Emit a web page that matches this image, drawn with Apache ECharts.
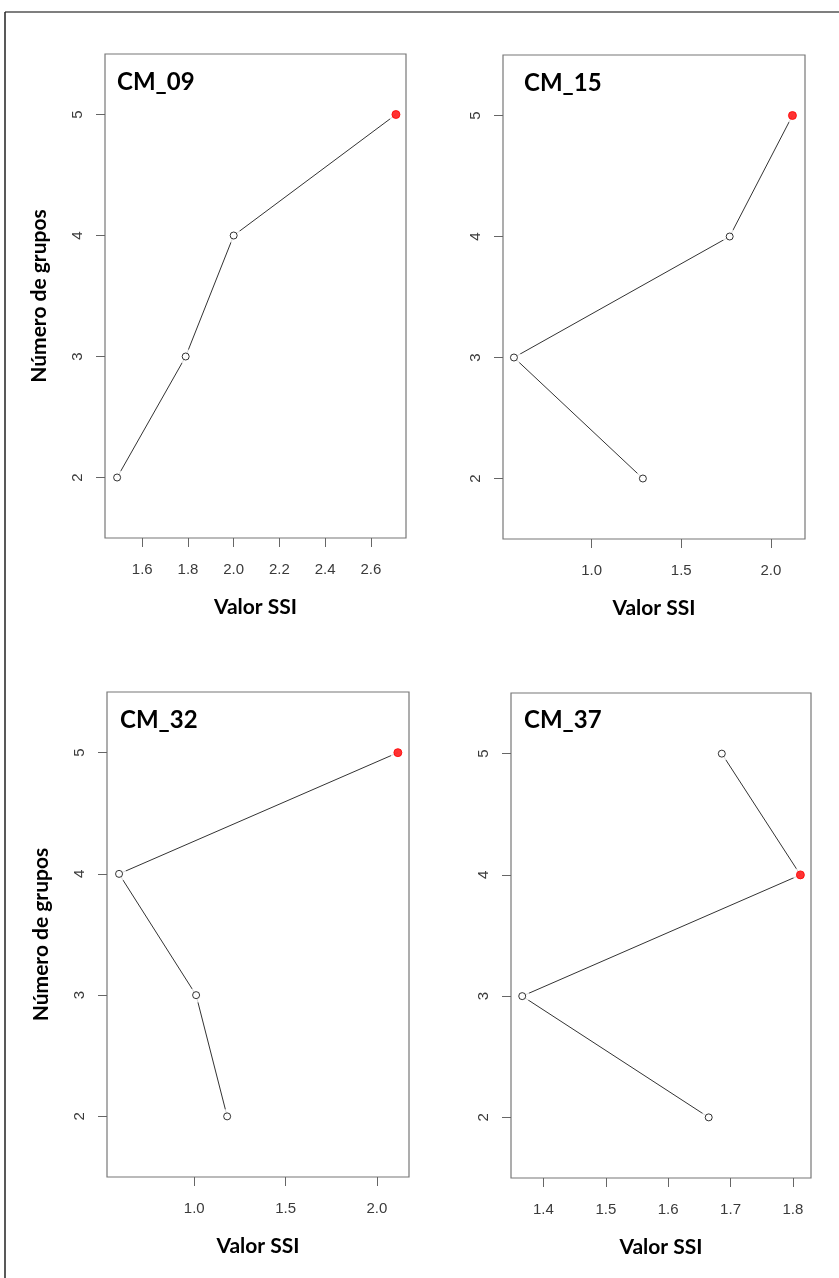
<!DOCTYPE html>
<html><head><meta charset="utf-8">
<script src="https://cdn.jsdelivr.net/npm/echarts@6/dist/echarts.min.js"></script>
<style>html,body{margin:0;padding:0;background:#fff}#c{width:839px;height:1278px}</style>
</head><body><div id="c"></div>
<script>
const groups = [2, 3, 4, 5];
const panelNames = ['CM_09', 'CM_15', 'CM_32', 'CM_37'];
const cm09 = [1.49, 1.79, 2.00, 2.71];
const cm15 = [1.286, 0.567, 1.77, 2.12];
const cm32 = [1.18, 1.01, 0.588, 2.115];
const cm37 = [1.665, 1.366, 1.812, 1.686];
const bestGroup = [5, 5, 5, 4];
const xTicks09 = [1.6, 1.8, 2.0, 2.2, 2.4, 2.6];
const xTicks15 = [1.0, 1.5, 2.0];
const xTicks32 = [1.0, 1.5, 2.0];
const xTicks37 = [1.4, 1.5, 1.6, 1.7, 1.8];
const yTicks = [2, 3, 4, 5];

const values = [cm09, cm15, cm32, cm37];
const xTicks = [xTicks09, xTicks15, xTicks32, xTicks37];
const xRanges = [[1.437, 2.754], [0.506, 2.19], [0.522, 2.176], [1.348, 1.829]];
const grids = [
  {left: 105, top: 54, width: 301, height: 484},
  {left: 503, top: 55, width: 302, height: 484},
  {left: 107, top: 692, width: 302, height: 485},
  {left: 511, top: 693, width: 300, height: 485}
];
const titlePos = [[112, 65], [519, 66], [115, 703], [519, 703]];

const chart = echarts.init(document.getElementById('c'), null, {renderer: 'canvas'});
const lab = {fontFamily: 'Liberation Sans, Arial, sans-serif', fontSize: 15, color: '#3a3a3a'};
const boldFont = 'Lato, "Open Sans", sans-serif';

const series = [];
values.forEach((vals, i) => {
  const pts = groups.map((g, k) => [vals[k], g]);
  series.push({
    type: 'line', xAxisIndex: i, yAxisIndex: i, showSymbol: false, symbol: 'none',
    lineStyle: {color: '#333', width: 1}, silent: true, z: 2,
    data: pts
  });
  series.push({
    type: 'scatter', xAxisIndex: i, yAxisIndex: i, symbol: 'circle', symbolSize: 15,
    itemStyle: {color: '#fff', borderWidth: 0}, silent: true, z: 3,
    data: pts
  });
  series.push({
    type: 'scatter', xAxisIndex: i, yAxisIndex: i, symbol: 'circle', symbolSize: 7, z: 4,
    itemStyle: {color: '#fff', borderColor: '#000', borderWidth: 1},
    data: groups.map((g, k) => g === bestGroup[i]
      ? {value: [vals[k], g], symbolSize: 8, itemStyle: {color: '#ff0000', borderColor: '#ff0000'}}
      : [vals[k], g])
  });
});

const option = {
  backgroundColor: '#fff',
  animation: false,
  title: panelNames.map((n, i) => ({
    text: n, left: titlePos[i][0], top: titlePos[i][1],
    textStyle: {fontFamily: boldFont, fontWeight: 'bold', fontSize: 24, color: '#000'}
  })),
  grid: grids.map(g => Object.assign({show: true, borderColor: '#777', borderWidth: 1.2, backgroundColor: 'transparent'}, g)),
  xAxis: grids.map((g, i) => ({
    type: 'value', gridIndex: i, min: xRanges[i][0], max: xRanges[i][1],
    name: 'Valor SSI', nameLocation: 'middle', nameGap: 59,
    nameTextStyle: {fontFamily: boldFont, fontWeight: 'bold', fontSize: 21, color: '#000'},
    axisLine: {show: false},
    splitLine: {show: false},
    axisTick: {show: true, length: 9, lineStyle: {color: '#666'}, customValues: xTicks[i]},
    axisLabel: Object.assign({margin: 24, customValues: xTicks[i], formatter: v => v.toFixed(1)}, lab)
  })),
  yAxis: grids.map((g, i) => ({
    type: 'value', gridIndex: i, min: 1.5, max: 5.5,
    name: (i % 2 === 0) ? 'Número de grupos' : '', nameLocation: 'middle', nameGap: 55, nameRotate: 90,
    nameTextStyle: {fontFamily: boldFont, fontWeight: 'bold', fontSize: 21, color: '#000'},
    axisLine: {show: false},
    splitLine: {show: false},
    axisTick: {show: true, length: 9, lineStyle: {color: '#666'}, customValues: yTicks},
    axisLabel: Object.assign({margin: 20, rotate: 90, customValues: yTicks, formatter: v => String(v)}, lab)
  })),
  series: series,
  graphic: [
    {type: 'line', shape: {x1: 5, y1: 12, x2: 839, y2: 12}, style: {stroke: '#555', lineWidth: 1.5}},
    {type: 'line', shape: {x1: 5, y1: 12, x2: 5, y2: 1278}, style: {stroke: '#222', lineWidth: 1.5}}
  ]
};
chart.setOption(option);
</script></body></html>
